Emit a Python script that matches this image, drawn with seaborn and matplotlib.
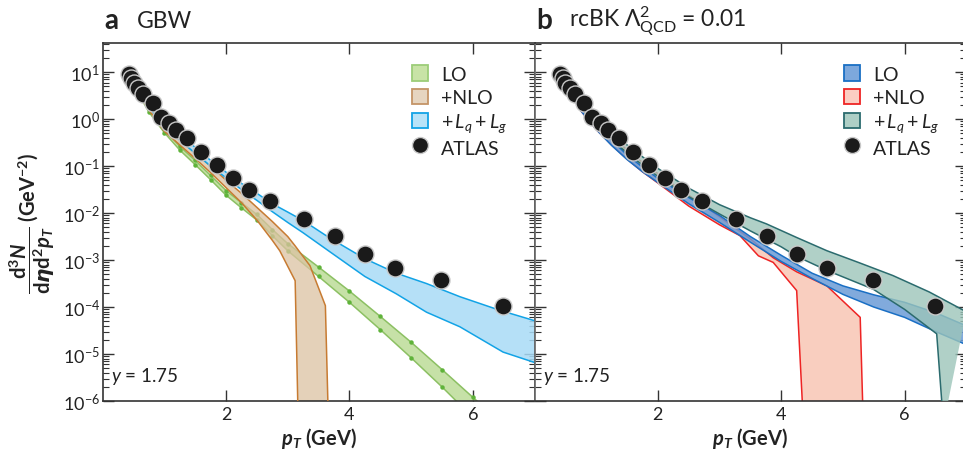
import matplotlib
matplotlib.use("Agg")
import matplotlib.pyplot as plt
import seaborn as sns
from matplotlib.patches import Patch, Rectangle
from matplotlib.lines import Line2D
from matplotlib.legend_handler import HandlerPatch
from matplotlib.ticker import LogLocator, NullFormatter, FixedLocator

# ---------------- data ----------------
atlas_pt = [0.42, 0.46, 0.50, 0.58, 0.66, 0.81, 0.94, 1.07, 1.19, 1.37, 1.59, 1.86,
            2.12, 2.37, 2.71, 3.27, 3.77, 4.25, 4.74, 5.49, 6.49]
atlas_y = [9.1, 7.4, 5.8, 4.5, 3.4, 2.16, 1.09, 0.81, 0.58, 0.39, 0.20, 0.105,
           0.055, 0.0315, 0.0178, 0.0075, 0.0033, 0.00135, 0.00069, 0.00038, 0.000107]

# panel a (GBW)
a_lo_x = [0.40, 0.50, 0.75, 1.00, 1.25, 1.50, 1.75, 2.00, 2.25, 2.50, 2.75, 3.00,
          3.50, 4.00, 4.50, 5.00, 5.50, 6.00, 6.50]
a_lo_hi = [10, 6.03, 1.66, 0.603, 0.263, 0.132, 0.0631, 0.0302, 0.0166, 0.00933,
           0.00447, 0.00224, 7.08e-4, 2.19e-4, 6.31e-5, 1.78e-5, 4.68e-6, 1.20e-6, 3.16e-7]
a_lo_lo = [8.91, 5.25, 1.41, 0.513, 0.219, 0.107, 0.0513, 0.0240, 0.0129, 0.00708,
           0.00331, 0.00158, 4.47e-4, 1.26e-4, 3.31e-5, 8.32e-6, 2.0e-6, 4.47e-7, 1.12e-7]

a_nlo_hi_x = [0.40, 0.50, 0.75, 1.00, 1.25, 1.50, 1.75, 2.00, 2.25, 2.50, 2.75, 3.00,
              3.12, 3.36, 3.61, 3.66]
a_nlo_hi = [10, 6.31, 1.86, 0.676, 0.363, 0.191, 0.100, 0.0501, 0.0263, 0.0132,
            0.00661, 0.00316, 0.00200, 7.59e-4, 1.07e-4, 3.16e-7]
a_nlo_lo_x = [0.40, 0.50, 0.75, 1.00, 1.25, 1.50, 1.75, 2.00, 2.25, 2.50, 2.75, 2.87,
              3.12, 3.17]
a_nlo_lo = [8.91, 5.50, 1.55, 0.550, 0.282, 0.145, 0.0724, 0.0347, 0.0166, 0.00708,
            0.00263, 0.00158, 3.63e-4, 3.16e-7]

a_lqg_hi_x = [0.40, 0.50, 0.75, 1.00, 1.25, 1.50, 1.75, 2.00, 2.25, 2.50, 2.75, 3.00,
              3.25, 3.68, 4.25, 4.76, 5.25, 5.79, 6.44, 7.00]
a_lqg_hi = [10, 6.17, 2.09, 0.871, 0.457, 0.251, 0.132, 0.0741, 0.0427, 0.0263, 0.0158,
            0.0105, 0.00692, 0.00295, 0.00107, 5.25e-4, 3.16e-4, 1.66e-4, 8.51e-5, 5.13e-5]
a_lqg_lo_x = [0.40, 0.50, 0.75, 1.00, 1.25, 1.50, 1.75, 2.00, 2.25, 2.50, 2.75, 3.00,
              3.25, 3.68, 4.25, 4.76, 5.25, 5.79, 6.49, 7.00]
a_lqg_lo = [9.12, 5.75, 1.78, 0.708, 0.355, 0.186, 0.100, 0.0562, 0.0316, 0.0186, 0.0107,
            0.00631, 0.00380, 0.00151, 4.47e-4, 1.91e-4, 7.76e-5, 3.80e-5, 1.10e-5, 6.61e-6]

# panel b (rcBK)
b_lo_x = [0.40, 0.50, 0.75, 1.00, 1.25, 1.50, 1.75, 2.00, 2.50, 3.00, 3.50, 4.00,
          4.50, 5.00, 5.50, 6.00, 6.50, 7.00]
b_lo_hi = [9.55, 5.75, 1.78, 0.759, 0.355, 0.174, 0.0955, 0.0550, 0.0214, 0.00891,
           0.00316, 0.00126, 5.25e-4, 2.82e-4, 1.82e-4, 1.26e-4, 7.59e-5, 3.98e-5]
b_lo_lo = [8.91, 5.25, 1.51, 0.603, 0.275, 0.138, 0.0759, 0.0447, 0.0158, 0.00631,
           0.00240, 9.33e-4, 4.07e-4, 1.86e-4, 1.00e-4, 6.03e-5, 3.02e-5, 1.58e-5]

b_nlo_hi_x = [0.40, 0.50, 0.75, 1.00, 1.25, 1.50, 1.75, 2.00, 2.50, 3.00, 3.50, 3.87,
              4.25, 4.74, 5.28, 5.33]
b_nlo_hi = [9.55, 5.89, 1.86, 0.832, 0.417, 0.224, 0.120, 0.0692, 0.0240, 0.00832,
            0.00282, 0.00112, 5.62e-4, 2.82e-4, 6.03e-5, 3.16e-7]
b_nlo_lo_x = [0.40, 0.50, 0.75, 1.00, 1.25, 1.50, 1.75, 2.00, 2.50, 3.00, 3.33, 3.63,
              3.87, 4.25, 4.36]
b_nlo_lo = [8.91, 5.25, 1.51, 0.603, 0.282, 0.141, 0.0759, 0.0437, 0.0141, 0.00562,
            0.00331, 0.00123, 8.91e-4, 2.24e-4, 3.16e-7]

b_lqg_hi_x = [0.40, 0.50, 0.75, 1.00, 1.25, 1.50, 1.75, 2.00, 2.50, 3.00, 3.50, 3.76,
              4.25, 4.74, 5.25, 5.81, 6.40, 7.00]
b_lqg_hi = [11.2, 7.08, 2.51, 1.05, 0.525, 0.282, 0.158, 0.0891, 0.0339, 0.0151,
            0.00794, 0.00589, 0.00302, 0.00158, 8.91e-4, 4.68e-4, 2.09e-4, 7.94e-5]
b_lqg_lo_x = [0.40, 0.50, 0.75, 1.00, 1.25, 1.50, 1.75, 2.00, 2.50, 3.00, 3.50, 4.00,
              4.25, 4.74, 5.49, 6.00, 6.52, 6.63]
b_lqg_lo = [9.33, 5.62, 1.74, 0.759, 0.363, 0.191, 0.105, 0.0603, 0.0224, 0.00955,
            0.00417, 0.00191, 0.00120, 6.03e-4, 2.40e-4, 8.91e-5, 2.69e-5, 3.16e-7]

legend_labels = ["LO", "+NLO", r"$+\,L_q + L_g$", "ATLAS"]
x_ticks = [2, 4, 6]
y_ticks = [1e-6, 1e-5, 1e-4, 1e-3, 1e-2, 1e-1, 1e0, 1e1]

# ---------------- style ----------------
sns.set_theme(style="ticks")
FONT = "Lato"
plt.rcParams["font.family"] = [FONT, "DejaVu Sans"]
plt.rcParams["mathtext.fontset"] = "custom"
plt.rcParams["mathtext.rm"] = FONT
plt.rcParams["mathtext.it"] = FONT + ":italic"
plt.rcParams["mathtext.bf"] = FONT + ":bold"
plt.rcParams["mathtext.sf"] = FONT + ":bold:italic"
plt.rcParams["axes.edgecolor"] = "#333333"
plt.rcParams["axes.linewidth"] = 1.2

fig = plt.figure(figsize=(9.63, 4.52), dpi=100)
W, H = 963.0, 452.0
ax_l = 102.7 / W
ax_w = 431.8 / W
ax_b = (H - 402.0) / H
ax_h = 358.0 / H
axA = fig.add_axes([ax_l, ax_b, ax_w, ax_h])
axB = fig.add_axes([534.5 / W, ax_b, ax_w, ax_h])


def band(ax, xh, yh, xl, yl, face, edge, alpha, z, dots=None):
    px = list(xh) + list(xl)[::-1]
    py = list(yh) + list(yl)[::-1]
    ax.fill(px, py, facecolor=face, edgecolor="none", alpha=alpha, zorder=z)
    for xs, ys in ((xh, yh), (xl, yl)):
        sns.lineplot(x=xs, y=ys, ax=ax, color=edge, lw=1.1, sort=False,
                     estimator=None, zorder=z + 0.1)
        if dots is not None:
            ax.plot(xs, ys, ls="none", marker="o", ms=2.2, color=dots,
                    zorder=z + 0.2)


# panel a
band(axA, a_lo_x, a_lo_hi, a_lo_x, a_lo_lo, "#b3d88a", "#8cc063", 0.75, 2, dots="#5fb33a")
band(axA, a_nlo_hi_x, a_nlo_hi, a_nlo_lo_x, a_nlo_lo, "#dcc2a2", "#c77b32", 0.75, 2.5)
band(axA, a_lqg_hi_x, a_lqg_hi, a_lqg_lo_x, a_lqg_lo, "#a8dbf6", "#12a3e6", 0.85, 3)

# panel b
band(axB, b_nlo_hi_x, b_nlo_hi, b_nlo_lo_x, b_nlo_lo, "#f9c6b4", "#ee2424", 0.85, 2)
band(axB, b_lo_x, b_lo_hi, b_lo_x, b_lo_lo, "#6b9bd6", "#1a6fc4", 0.85, 2.5)
band(axB, b_lqg_hi_x, b_lqg_hi, b_lqg_lo_x, b_lqg_lo, "#9cc5ba", "#2b6b6e", 0.8, 3)

face_cols = {
    "A": [("#c8e3a6", "#9ccd78"), ("#e6d5c0", "#c49467"), ("#b9e3f8", "#12a3e6")],
    "B": [("#7da8dc", "#1a6fc4"), ("#fbcdc2", "#ee2424"), ("#aecfc6", "#2b6b6e")],
}


def square_patch(legend, orig_handle, xdescent, ydescent, width, height, fontsize):
    s = 0.8 * fontsize
    return Rectangle((-xdescent + (width - s) / 2.0, -ydescent + (height - s) / 2.0), s, s)


for key, ax in (("A", axA), ("B", axB)):
    sns.scatterplot(x=atlas_pt, y=atlas_y, ax=ax, s=150, color="#1a1a1a",
                    edgecolor="#c8c8c8", linewidth=1.0, zorder=10, legend=False)
    ax.set_yscale("log")
    ax.set_xlim(0, 7)
    ax.set_ylim(1e-6, 10 ** 1.62)
    ax.xaxis.set_major_locator(FixedLocator(x_ticks))
    ax.yaxis.set_major_locator(FixedLocator(y_ticks))
    ax.yaxis.set_minor_locator(LogLocator(base=10, subs=[2, 3, 4, 5, 6, 7, 8, 9], numticks=20))
    ax.yaxis.set_minor_formatter(NullFormatter())
    ax.tick_params(which="both", direction="in", top=True, right=True,
                   colors="#333333", labelcolor="#222222", labelsize=13)
    ax.tick_params(which="major", length=8, width=1.0)
    ax.tick_params(which="minor", length=4, width=0.8)
    ax.tick_params(axis="y", pad=2)
    ax.set_xlabel(r"$\mathsf{p}_{\mathsf{T}}$ (GeV)", fontsize=14.5, fontweight="bold",
                  labelpad=2, color="#222222")
    ax.set_ylabel("")
    ax.text(0.02, 0.07, r"$y$ = 1.75", transform=ax.transAxes, fontsize=13.5,
            color="#222222", va="center", ha="left")
    handles = [Patch(facecolor=f, edgecolor=e, linewidth=1.3) for f, e in face_cols[key]]
    handles.append(Line2D([], [], ls="none", marker="o", ms=11.5, color="#1a1a1a",
                          markeredgecolor="#c8c8c8"))
    leg = ax.legend(handles, legend_labels, loc="upper left",
                    bbox_to_anchor=(0.71, 0.945), frameon=False, fontsize=14,
                    handlelength=1.1, handleheight=1.25, handletextpad=0.55,
                    labelspacing=0.16, borderaxespad=0.0, borderpad=0.0,
                    handler_map={Patch: HandlerPatch(patch_func=square_patch)})
    for t in leg.get_texts():
        t.set_color("#222222")

axB.tick_params(labelleft=False)
axB.spines["left"].set_color("#666666")

axA.set_ylabel(r"$\dfrac{\mathbf{d}^{\mathbf{3}}\mathsf{N}}{\mathbf{d}\boldsymbol{\eta}\mathbf{d}^{\mathbf{2}}\mathsf{p}_{\mathsf{T}}}$ (GeV$^{\mathbf{-2}}$)",
               fontsize=14.5, fontweight="bold", labelpad=4, color="#222222")

# panel titles
fig.text(104 / W, 1 - 21 / H, "a", fontsize=20, fontweight="bold", va="center", ha="left", color="#222222")
fig.text(137 / W, 1 - 21 / H, "GBW", fontsize=16.5, va="center", ha="left", color="#222222")
fig.text(536 / W, 1 - 21 / H, "b", fontsize=20, fontweight="bold", va="center", ha="left", color="#222222")
fig.text(569 / W, 1 - 21 / H, r"rcBK $\Lambda^2_{\mathrm{QCD}}$ = 0.01", fontsize=16.5,
         va="center", ha="left", color="#222222")

fig.savefig("out.png", dpi=100)
